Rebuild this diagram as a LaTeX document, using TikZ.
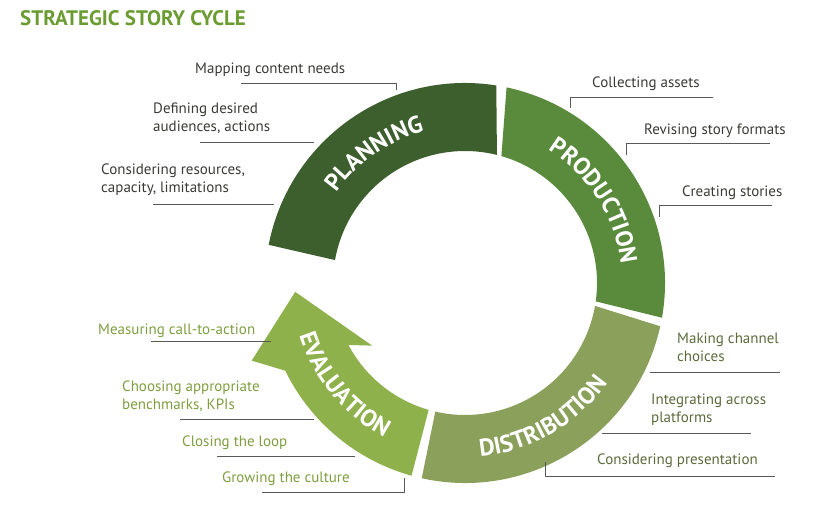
\documentclass[tikz,border=0pt]{standalone}
\usepackage{fontspec}
\setmainfont{PT Sans}
\usepackage{tikz}
\usetikzlibrary{decorations.text}
\definecolor{plan}{HTML}{3D5F2D}
\definecolor{prod}{HTML}{5A8B3D}
\definecolor{dist}{HTML}{8AA05B}
\definecolor{eval}{HTML}{8EB14B}
\definecolor{titlegreen}{HTML}{6A9C32}
\definecolor{darktext}{HTML}{3A3A36}
\definecolor{disttext}{HTML}{5C6A3C}
\definecolor{evaltext}{HTML}{7E9E40}
\tikzset{
  lbl/.style={anchor=base west, inner sep=0pt, align=left, font=\fontsize{15}{18}\selectfont},
  lead/.style={draw=black!65, line width=0.6pt},
  ringtext/.style={decorate, decoration={text along path, text align=center,
      text={|\color{white}\fontsize{24}{24}\selectfont\bfseries|#1}}}
}
\begin{document}
\begin{tikzpicture}[x=1pt,y=1pt]
  \useasboundingbox (0,0) rectangle (840,511);
  \node[anchor=base west, inner sep=0pt, text=titlegreen, font=\fontsize{21}{21}\selectfont\bfseries] (title) at (20,485) {STRATEGIC STORY CYCLE};
  % ring segments
  \begin{scope}[shift={(465,228)}]
    \fill[plan] (81:200) arc(81:169:200) -- (170:132) arc(170:76:132) -- cycle;
    \fill[prod] (78:200) arc(78:-10:200) -- (-8:132) arc(-8:74:132) -- cycle;
    \fill[dist] (-12.5:200) arc(-12.5:-102.5:200) -- (-103:132) arc(-103:-10:132) -- cycle;
    \fill[eval] (-105.5:200) arc(-105.5:-154:200) -- (200:227) -- (183:170)
      -- (214:112) -- (-152:132) arc(-152:-106:132) -- cycle;
    %Labels on the ring
    \path[ringtext=PLANNING] (170:157) arc(170:80:157);
    \path[ringtext=PRODUCTION] (75:157) arc(75:-10:157);
    \path[ringtext=DISTRIBUTION] (-100:174) arc(-100:-20:174);
    \path[ringtext=EVALUATION] (188:174) arc(188:252:174);
  \end{scope}
  %Planning
  \node[lbl, text=darktext] (map) at (195,437) {Mapping content needs};
  \draw[lead] (241,428) -- (396,428) -- (396,421);
  \node[lbl, text=darktext] (def) at (153,379) {Defining desired\\audiences, actions};
  \draw[lead] (200,369) -- (314,369);
  \node[lbl, text=darktext] (res) at (101,318) {Considering resources,\\capacity, limitations};
  \draw[lead] (153,307) -- (274,307);
  %Production
  \node[lbl, text=darktext] (col) at (592,423) {Collecting assets};
  \draw[lead] (713,414) -- (570,414) -- (570,403);
  \node[lbl, text=darktext] (rev) at (644,376) {Revising story formats};
  \draw[lead] (770,368) -- (626,368) -- (626,356);
  \node[lbl, text=darktext] (cre) at (682,314) {Creating stories};
  \draw[lead] (772,306) -- (659,306) -- (659,294);
  %Distribution
  \node[lbl, text=disttext] (mak) at (677,149) {Making channel\\choices};
  \draw[lead] (650,139) -- (780,139);
  \node[lbl, text=disttext] (int) at (651,88) {Integrating across\\platforms};
  \draw[lead] (602,78) -- (751,78);
  \node[lbl, text=disttext] (pre) at (597,46) {Considering presentation};
  \draw[lead] (545,49) -- (545,35) -- (775,35);
  %Evaluation
  \node[lbl, text=evaltext] (mea) at (98,176) {Measuring call-to-action};
  \draw[lead] (151,170) -- (271,170);
  \node[lbl, text=evaltext] (cho) at (122,101) {Choosing appropriate\\benchmarks, KPIs};
  \draw[lead] (180,92) -- (314,92);
  \node[lbl, text=evaltext] (clo) at (182,64) {Closing the loop};
  \draw[lead] (217,55) -- (355,55);
  \node[lbl, text=evaltext] (gro) at (222,28) {Growing the culture};
  \draw[lead] (262,19) -- (404,19) -- (404,33);
\end{tikzpicture}
\end{document}
